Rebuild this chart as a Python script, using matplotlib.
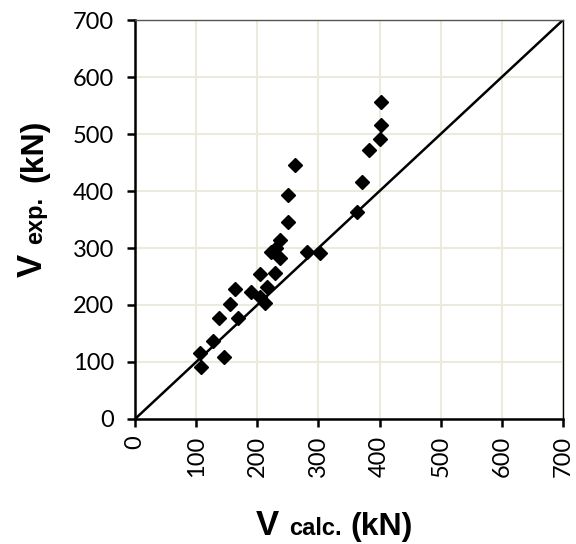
import numpy as np
import matplotlib.pyplot as plt

# Shear strength: calculated vs experimental (kN)
v_calc = [106, 108, 128, 137, 146, 155, 164, 169, 190, 205, 205, 213, 216,
          222, 229, 230, 237, 237, 251, 251, 261, 281, 303, 363, 371, 383,
          400, 402, 402]
v_exp = [116, 91, 136, 177, 108, 201, 228, 177, 222, 254, 214, 203, 232,
         293, 257, 300, 314, 282, 346, 393, 445, 293, 292, 364, 416, 472,
         491, 516, 557]
ticks = [0, 100, 200, 300, 400, 500, 600, 700]

fig = plt.figure(figsize=(5.76, 5.44), dpi=100)
ax = fig.add_axes([0.2344, 0.2298, 0.743, 0.7334])

ax.grid(True, color="#ECE9DD", linewidth=1.5, zorder=0)
ax.set_axisbelow(True)

# line of equality
ax.plot([0, 700], [0, 700], color="black", linewidth=1.8, zorder=2)
ax.plot(v_calc, v_exp, linestyle="none", marker="D", markersize=7.5,
        color="black", zorder=3)

ax.set_xlim(0, 700)
ax.set_ylim(0, 700)
ax.set_xticks(ticks)
ax.set_yticks(ticks)
ax.set_xticklabels([str(t) for t in ticks], rotation=90)

for side in ["left", "bottom"]:
    ax.spines[side].set_linewidth(1.8)
ax.spines["top"].set_color("#555555")
ax.spines["top"].set_linewidth(1.0)
ax.spines["right"].set_linewidth(1.0)

ax.tick_params(axis="both", direction="out", length=6, width=1.8,
               labelsize=17, colors="black")
ax.tick_params(axis="y", pad=9)
ax.tick_params(axis="x", pad=6)
for lab in ax.get_xticklabels() + ax.get_yticklabels():
    lab.set_family("Lato")

# axis titles built from pieces (big V, smaller subscript, units)
font = "Liberation Sans"
fig.text(0.444, 0.0165, "V", fontsize=25, weight="bold", family=font)
fig.text(0.502, 0.0165, "calc.", fontsize=17, weight="bold", family=font)
fig.text(0.609, 0.0165, "(kN)", fontsize=23, weight="bold", family=font)

fig.text(0.073, 0.491, "V", fontsize=25, weight="bold", family=font,
         rotation=90, rotation_mode="anchor", ha="left", va="baseline")
fig.text(0.073, 0.551, "exp.", fontsize=17, weight="bold", family=font,
         rotation=90, rotation_mode="anchor", ha="left", va="baseline")
fig.text(0.073, 0.665, "(kN)", fontsize=23, weight="bold", family=font,
         rotation=90, rotation_mode="anchor", ha="left", va="baseline")

plt.savefig("out.png", dpi=100)
